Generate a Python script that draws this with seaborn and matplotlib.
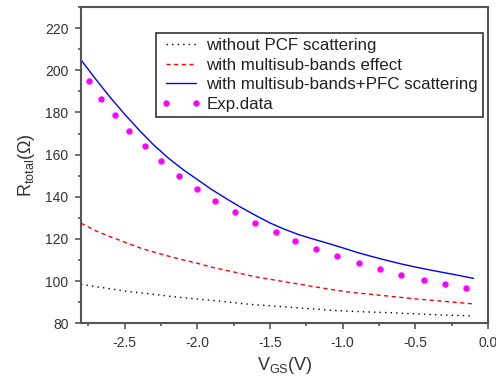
import numpy as np
import pandas as pd
import matplotlib
matplotlib.use("Agg")
import matplotlib.pyplot as plt
import seaborn as sns
from matplotlib.ticker import MultipleLocator, FormatStrFormatter

# gate voltage grid for the model curves
vgs = [-2.8, -2.7, -2.6, -2.5, -2.4, -2.3, -2.2, -2.1, -2.0, -1.9,
       -1.8, -1.7, -1.6, -1.5, -1.4, -1.3, -1.2, -1.1, -1.0, -0.9,
       -0.8, -0.7, -0.6, -0.5, -0.4, -0.3, -0.2, -0.1]

no_pcf = [98.5, 97.4, 96.4, 95.3, 94.5, 93.8, 92.9, 92.2, 91.5, 90.9,
          90.2, 89.4, 88.8, 88.3, 87.8, 87.3, 86.8, 86.3, 85.9, 85.6,
          85.3, 85.1, 84.8, 84.5, 84.2, 83.9, 83.7, 83.5]

multisub = [127.5, 123.9, 121.1, 118.5, 115.9, 113.8, 111.9, 110.1, 108.5, 106.6,
            105.1, 103.6, 102.0, 100.9, 99.7, 98.6, 97.4, 96.3, 95.2, 94.4,
            93.7, 93.0, 92.3, 91.6, 91.0, 90.4, 89.8, 89.2]

multisub_pfc = [204.9, 195.9, 187.2, 179.2, 171.6, 164.6, 158.4, 153.0, 148.2, 143.4,
                139.1, 135.0, 131.2, 127.6, 124.6, 122.0, 119.9, 117.9, 115.8, 113.6,
                111.7, 109.9, 108.2, 106.7, 105.3, 104.0, 102.7, 101.3]

# experimental points
exp_v = [-2.747, -2.660, -2.564, -2.468, -2.358, -2.248, -2.129, -2.005, -1.875, -1.742,
         -1.604, -1.462, -1.325, -1.182, -1.038, -0.890, -0.745, -0.598, -0.443, -0.299,
         -0.150]
exp_r = [194.8, 186.6, 179.0, 171.3, 163.9, 157.1, 150.0, 143.8, 137.8, 132.6,
         127.5, 123.1, 118.8, 115.2, 111.7, 108.5, 105.7, 103.1, 100.6, 98.8,
         96.9]

sns.set_style("ticks")
plt.rcParams['font.family'] = ['Liberation Sans', 'DejaVu Sans']
plt.rcParams['mathtext.default'] = 'regular'
plt.rcParams['axes.unicode_minus'] = False

fig = plt.figure(figsize=(4.96, 3.81), dpi=100)
ax = fig.add_axes([0.1633, 0.1514, 0.8207, 0.8302])

sns.lineplot(x=vgs, y=no_pcf, ax=ax, color='black', lw=1.0,
             linestyle=(0, (1, 3)), label='without PCF scattering')
sns.lineplot(x=vgs, y=multisub, ax=ax, color='red', lw=1.0,
             linestyle=(0, (3, 2.5)), label='with multisub-bands effect')
sns.lineplot(x=vgs, y=multisub_pfc, ax=ax, color='blue', lw=1.0,
             label='with multisub-bands+PFC scattering')
ax.plot(exp_v, exp_r, linestyle='none', marker='o', ms=3.6, mec='#ff00ff',
        mfc='#ff00ff', label='Exp.data')

ax.set_xlim(-2.8, 0.0)
ax.set_ylim(80, 230)
ax.xaxis.set_major_locator(MultipleLocator(0.5))
ax.xaxis.set_minor_locator(MultipleLocator(0.25))
ax.xaxis.set_major_formatter(FormatStrFormatter('%.1f'))
ax.yaxis.set_major_locator(MultipleLocator(20))
ax.yaxis.set_minor_locator(MultipleLocator(10))

spine_c = '#555555'
for s in ax.spines.values():
    s.set_color(spine_c)
    s.set_linewidth(1.5)
ax.tick_params(which='major', length=4, width=1.2, color=spine_c,
               labelsize=10, labelcolor='#333333', pad=5)
ax.tick_params(which='minor', length=2.5, width=1.2, color=spine_c)

ax.set_xlabel('V$_{GS}$(V)', fontsize=13, color='#333333', labelpad=4)
ax.set_ylabel('R$_{total}$(Ω)', fontsize=13, color='#333333', labelpad=6)

handles, labels = ax.get_legend_handles_labels()
leg = ax.legend(handles, labels, loc='upper right', bbox_to_anchor=(0.988, 0.918),
                fontsize=12.2, numpoints=2, handlelength=2.4, handletextpad=0.3,
                labelspacing=0.27, borderpad=0.3, borderaxespad=0.0,
                frameon=True, fancybox=False, framealpha=1.0)
leg.get_frame().set_edgecolor('#333333')
leg.get_frame().set_linewidth(1.2)
for t in leg.get_texts():
    t.set_color('#222222')

fig.savefig('out.png', dpi=100)
